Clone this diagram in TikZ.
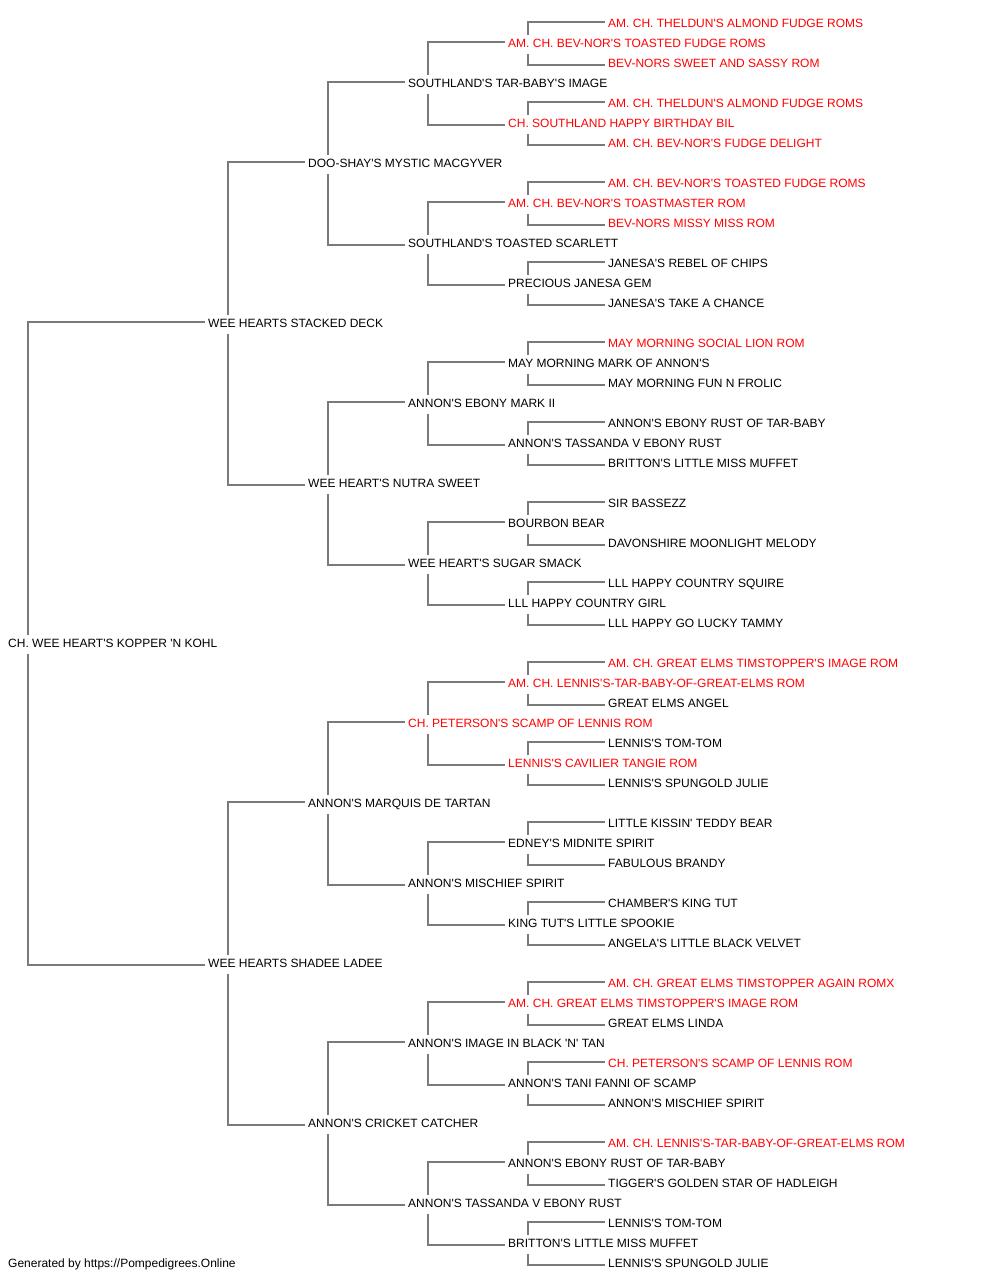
\documentclass[tikz,border=0pt]{standalone}
\usepackage{fontspec}
\setmainfont{Liberation Sans}[Ligatures=TeXOff]
\begin{document}
\begin{tikzpicture}[x=1pt,y=-1pt,
  dog/.style={anchor=base west,inner sep=0pt,font=\fontsize{12}{14}\selectfont,text=black},
  champ/.style={dog,text=red},
  link/.style={draw=black!52,line width=1.4pt}]
\useasboundingbox[fill=white] (0,0) rectangle (1000,1280);
\newcommand\pn[4]{\node[dog] (#1) at (#2,#3+4.5) {#4};}
\newcommand\rn[4]{\node[champ] (#1) at (#2,#3+4.5) {#4};}
\newcommand\conn[3]{%
  \draw[link] ([shift={(20,-12.5)}]#1.base west) |- ([shift={(-3,-5.5)}]#2.base west);
  \draw[link] ([shift={(20,6.5)}]#1.base west) |- ([shift={(-3,-2.5)}]#3.base west);}
% generation 0
\pn{r}{8}{643}{CH. WEE HEART'S KOPPER 'N KOHL}
% generation 1
\pn{a0}{208}{323}{WEE HEARTS STACKED DECK}
\pn{a1}{208}{963}{WEE HEARTS SHADEE LADEE}
% generation 2
\pn{b0}{308}{163}{DOO-SHAY'S MYSTIC MACGYVER}
\pn{b1}{308}{483}{WEE HEART'S NUTRA SWEET}
\pn{b2}{308}{803}{ANNON'S MARQUIS DE TARTAN}
\pn{b3}{308}{1123}{ANNON'S CRICKET CATCHER}
% generation 3
\pn{c0}{408}{83}{SOUTHLAND'S TAR-BABY'S IMAGE}
\pn{c1}{408}{243}{SOUTHLAND'S TOASTED SCARLETT}
\pn{c2}{408}{403}{ANNON'S EBONY MARK II}
\pn{c3}{408}{563}{WEE HEART'S SUGAR SMACK}
\rn{c4}{408}{723}{CH. PETERSON'S SCAMP OF LENNIS ROM}
\pn{c5}{408}{883}{ANNON'S MISCHIEF SPIRIT}
\pn{c6}{408}{1043}{ANNON'S IMAGE IN BLACK 'N' TAN}
\pn{c7}{408}{1203}{ANNON'S TASSANDA V EBONY RUST}
% generation 4
\rn{d0}{508}{43}{AM. CH. BEV-NOR'S TOASTED FUDGE ROMS}
\rn{d1}{508}{123}{CH. SOUTHLAND HAPPY BIRTHDAY BIL}
\rn{d2}{508}{203}{AM. CH. BEV-NOR'S TOASTMASTER ROM}
\pn{d3}{508}{283}{PRECIOUS JANESA GEM}
\pn{d4}{508}{363}{MAY MORNING MARK OF ANNON'S}
\pn{d5}{508}{443}{ANNON'S TASSANDA V EBONY RUST}
\pn{d6}{508}{523}{BOURBON BEAR}
\pn{d7}{508}{603}{LLL HAPPY COUNTRY GIRL}
\rn{d8}{508}{683}{AM. CH. LENNIS'S-TAR-BABY-OF-GREAT-ELMS ROM}
\rn{d9}{508}{763}{LENNIS'S CAVILIER TANGIE ROM}
\pn{d10}{508}{843}{EDNEY'S MIDNITE SPIRIT}
\pn{d11}{508}{923}{KING TUT'S LITTLE SPOOKIE}
\rn{d12}{508}{1003}{AM. CH. GREAT ELMS TIMSTOPPER'S IMAGE ROM}
\pn{d13}{508}{1083}{ANNON'S TANI FANNI OF SCAMP}
\pn{d14}{508}{1163}{ANNON'S EBONY RUST OF TAR-BABY}
\pn{d15}{508}{1243}{BRITTON'S LITTLE MISS MUFFET}
% generation 5
\rn{e0}{608}{23}{AM. CH. THELDUN'S ALMOND FUDGE ROMS}
\rn{e1}{608}{63}{BEV-NORS SWEET AND SASSY ROM}
\rn{e2}{608}{103}{AM. CH. THELDUN'S ALMOND FUDGE ROMS}
\rn{e3}{608}{143}{AM. CH. BEV-NOR'S FUDGE DELIGHT}
\rn{e4}{608}{183}{AM. CH. BEV-NOR'S TOASTED FUDGE ROMS}
\rn{e5}{608}{223}{BEV-NORS MISSY MISS ROM}
\pn{e6}{608}{263}{JANESA'S REBEL OF CHIPS}
\pn{e7}{608}{303}{JANESA'S TAKE A CHANCE}
\rn{e8}{608}{343}{MAY MORNING SOCIAL LION ROM}
\pn{e9}{608}{383}{MAY MORNING FUN N FROLIC}
\pn{e10}{608}{423}{ANNON'S EBONY RUST OF TAR-BABY}
\pn{e11}{608}{463}{BRITTON'S LITTLE MISS MUFFET}
\pn{e12}{608}{503}{SIR BASSEZZ}
\pn{e13}{608}{543}{DAVONSHIRE MOONLIGHT MELODY}
\pn{e14}{608}{583}{LLL HAPPY COUNTRY SQUIRE}
\pn{e15}{608}{623}{LLL HAPPY GO LUCKY TAMMY}
\rn{e16}{608}{663}{AM. CH. GREAT ELMS TIMSTOPPER'S IMAGE ROM}
\pn{e17}{608}{703}{GREAT ELMS ANGEL}
\pn{e18}{608}{743}{LENNIS'S TOM-TOM}
\pn{e19}{608}{783}{LENNIS'S SPUNGOLD JULIE}
\pn{e20}{608}{823}{LITTLE KISSIN' TEDDY BEAR}
\pn{e21}{608}{863}{FABULOUS BRANDY}
\pn{e22}{608}{903}{CHAMBER'S KING TUT}
\pn{e23}{608}{943}{ANGELA'S LITTLE BLACK VELVET}
\rn{e24}{608}{983}{AM. CH. GREAT ELMS TIMSTOPPER AGAIN ROMX}
\pn{e25}{608}{1023}{GREAT ELMS LINDA}
\rn{e26}{608}{1063}{CH. PETERSON'S SCAMP OF LENNIS ROM}
\pn{e27}{608}{1103}{ANNON'S MISCHIEF SPIRIT}
\rn{e28}{608}{1143}{AM. CH. LENNIS'S-TAR-BABY-OF-GREAT-ELMS ROM}
\pn{e29}{608}{1183}{TIGGER'S GOLDEN STAR OF HADLEIGH}
\pn{e30}{608}{1223}{LENNIS'S TOM-TOM}
\pn{e31}{608}{1263}{LENNIS'S SPUNGOLD JULIE}
% footer
\pn{foot}{8}{1263}{Generated by https://Pompedigrees.Online}
% connectors
\conn{r}{a0}{a1}
\conn{a0}{b0}{b1}
\conn{a1}{b2}{b3}
\conn{b0}{c0}{c1}
\conn{b1}{c2}{c3}
\conn{b2}{c4}{c5}
\conn{b3}{c6}{c7}
\conn{c0}{d0}{d1}
\conn{c1}{d2}{d3}
\conn{c2}{d4}{d5}
\conn{c3}{d6}{d7}
\conn{c4}{d8}{d9}
\conn{c5}{d10}{d11}
\conn{c6}{d12}{d13}
\conn{c7}{d14}{d15}
\conn{d0}{e0}{e1}
\conn{d1}{e2}{e3}
\conn{d2}{e4}{e5}
\conn{d3}{e6}{e7}
\conn{d4}{e8}{e9}
\conn{d5}{e10}{e11}
\conn{d6}{e12}{e13}
\conn{d7}{e14}{e15}
\conn{d8}{e16}{e17}
\conn{d9}{e18}{e19}
\conn{d10}{e20}{e21}
\conn{d11}{e22}{e23}
\conn{d12}{e24}{e25}
\conn{d13}{e26}{e27}
\conn{d14}{e28}{e29}
\conn{d15}{e30}{e31}
\end{tikzpicture}
\end{document}
